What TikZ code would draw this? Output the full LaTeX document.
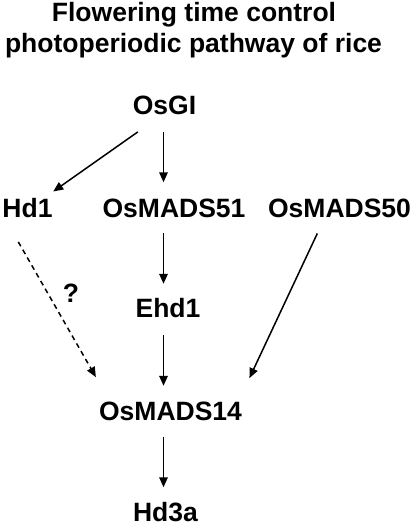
\documentclass[tikz,border=0pt]{standalone}
\usepackage{fontspec}
\setmainfont{Liberation Sans}
\usetikzlibrary{arrows.meta}
\begin{document}
\begin{tikzpicture}[x=1pt,y=-1pt,
  lbl/.style={font=\fontsize{26.5}{31}\selectfont\bfseries, inner sep=0pt, text height=19pt, text depth=0pt},
  ttl/.style={font=\fontsize{26.5}{31}\selectfont\bfseries, inner sep=0pt, anchor=base},
  arr/.style={line width=1.5pt, -{Triangle[length=10pt,width=8.5pt]}},
  dasharr/.style={arr, dash pattern=on 5pt off 4pt}]
\path[use as bounding box, fill=white] (0,0) rectangle (415,526);
\node[ttl] (t1) at (194,22) {Flowering time control};
\node[ttl] (t2) at (193.5,53) {photoperiodic pathway of rice};
\node[lbl] (osgi) at (164.5,105) {OsGI};
\node[lbl] (hd1) at (27.5,208) {Hd1};
\node[lbl] (m51) at (174,208) {OsMADS51};
\node[lbl] (m50) at (339.5,208) {OsMADS50};
\node[lbl] (ehd1) at (168,307.5) {Ehd1};
\node[lbl] (m14) at (170.5,411) {OsMADS14};
\node[lbl] (hd3a) at (165.5,512) {Hd3a};
\node[lbl] (q) at (71,293) {?};
\coordinate (vx) at (163.5,0);
\draw[arr, shorten <=17pt, shorten >=16pt] (vx |- osgi.south) -- (vx |- m51.north);
\draw[arr, shorten <=15.5pt, shorten >=14pt] (vx |- m51.south) -- (vx |- ehd1.north);
\draw[arr, shorten <=18pt, shorten >=15.5pt] (vx |- ehd1.south) -- (vx |- m14.north);
\draw[arr, shorten <=16pt, shorten >=15pt] (vx |- m14.south) -- (vx |- hd3a.north);
\draw[arr] ([xshift=5.2pt,yshift=-17.2pt]osgi.south west) -- ([xshift=0.5pt,yshift=6.8pt]hd1.north east);
\draw[dasharr] ([xshift=-9.2pt,yshift=-24.2pt]hd1.south) -- ([xshift=-3pt,yshift=24.2pt]m14.north west);
\draw[arr] ([xshift=-22.2pt,yshift=-15.8pt]m50.south) -- ([xshift=7.3pt,yshift=23.2pt]m14.north east);
\end{tikzpicture}
\end{document}
